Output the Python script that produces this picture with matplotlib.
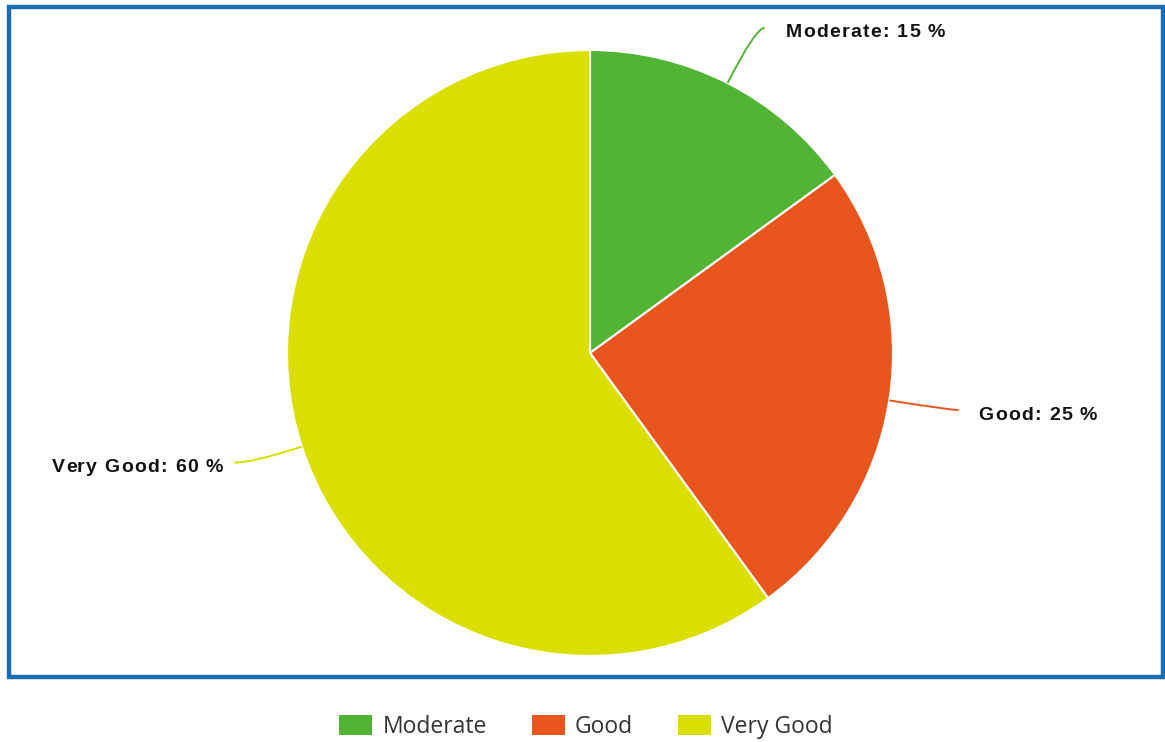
import numpy as np
import matplotlib
matplotlib.use("Agg")
import matplotlib.pyplot as plt
from matplotlib.patches import Rectangle, Patch, PathPatch
from matplotlib.path import Path
from matplotlib.font_manager import FontProperties

categories = ["Moderate", "Good", "Very Good"]
shares = [15, 25, 60]
colors = ["#52b435", "#e9561d", "#dadf00"]

W, H = 1165, 742
fig = plt.figure(figsize=(W / 100, H / 100), dpi=100)
ax = fig.add_axes([0, 0, 1, 1])
ax.set_xlim(0, W)
ax.set_ylim(0, H)
ax.set_aspect("equal")
ax.axis("off")

# chart frame
ax.add_patch(Rectangle((8.5, H - 676.5), 1154, 670, fill=False,
                       edgecolor="#1a6db3", linewidth=3.2, zorder=0))

cx, cy, r = 590, H - 353, 303
wedges, _ = ax.pie(shares, colors=colors, startangle=90, counterclock=False,
                   center=(cx, cy), radius=r,
                   wedgeprops=dict(edgecolor="white", linewidth=1.5))
ax.set_xlim(0, W)
ax.set_ylim(0, H)

renderer = fig.canvas.get_renderer()
label_font = FontProperties(family="Liberation Sans", weight="bold", size=14)
tracking = 1.3  # extra px between letters


def text_width(s):
    # advance width of s in pixels (a bar is appended so trailing spaces count)
    w1, _, _ = renderer.get_text_width_height_descent(s + "|", label_font, ismath=False)
    w0, _, _ = renderer.get_text_width_height_descent("|", label_font, ismath=False)
    return w1 - w0


def spaced_text(x, y, s, align):
    total = text_width(s) + tracking * (len(s) - 1)
    x0 = x if align == "left" else x - total
    for i, ch in enumerate(s):
        if ch == " ":
            continue
        xi = x0 + text_width(s[:i]) + tracking * i
        ax.text(xi, y, ch, ha="left", va="center", fontproperties=label_font,
                color="#111111")


# leader lines and labels
ext = [62, 62, 52]
run = [9, 8, 18]
gap = [21, 20, 11]
for w, cat, val, col, e, h, g in zip(wedges, categories, shares, colors, ext, run, gap):
    mid = np.deg2rad((w.theta1 + w.theta2) / 2)
    d = np.array([np.cos(mid), np.sin(mid)])
    p0 = np.array([cx, cy]) + r * d
    p1 = np.array([cx, cy]) + (r + e) * d
    side = 1 if d[0] >= 0 else -1
    p2 = p1 + np.array([side * h, 0])
    path = Path([p0, p1, p2], [Path.MOVETO, Path.CURVE3, Path.CURVE3])
    ax.add_patch(PathPatch(path, fill=False, edgecolor=col, linewidth=1.4))
    spaced_text(p2[0] + side * g, p2[1] - 5, f"{cat}: {val} %",
                "left" if side > 0 else "right")

handles = [Patch(facecolor=c, edgecolor="none") for c in colors]
leg = fig.legend(handles, categories, loc="center", ncol=3,
                 bbox_to_anchor=(586 / W, 1 - 727 / H), frameon=False,
                 prop=dict(family="Open Sans", size=16.5),
                 handlelength=1.45, handleheight=0.92, handletextpad=0.45,
                 columnspacing=1.95)
for t in leg.get_texts():
    t.set_color("#333333")

fig.savefig("out.png", dpi=100)
